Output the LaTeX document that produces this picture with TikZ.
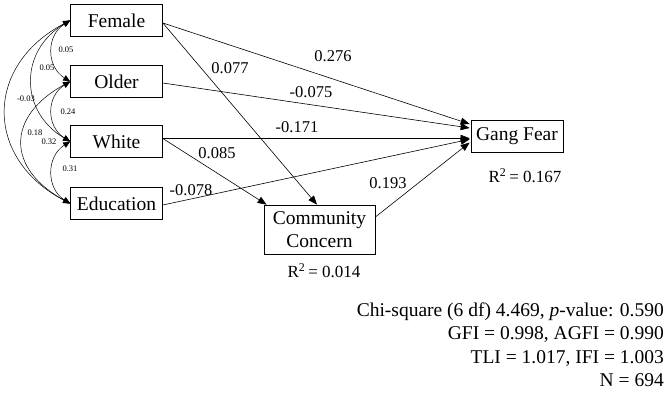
\documentclass[tikz,border=0pt]{standalone}
\usepackage{fontspec}
\setmainfont{Liberation Serif}
\usetikzlibrary{arrows.meta,calc}
\begin{document}
\begin{tikzpicture}[x=1pt,y=-1pt,
  box/.style={draw, line width=0.7pt, minimum width=92pt, minimum height=32pt, inner sep=0pt, font=\fontsize{19.5}{23}\selectfont},
  pathar/.style={line width=0.6pt, -{Triangle[length=9pt,width=7pt]}},
  corr/.style={line width=0.5pt, {Triangle[length=7pt,width=6pt]}-{Triangle[length=7pt,width=6pt]}},
  coef/.style={font=\fontsize{16.5}{18}\selectfont, inner sep=0pt},
  small/.style={font=\fontsize{8.5}{10}\selectfont, inner sep=0pt},
  rsq/.style={font=\fontsize{17}{20}\selectfont, inner sep=0pt},
  stat/.style={font=\fontsize{19.5}{23}\selectfont, inner sep=0pt, anchor=base east}]
\useasboundingbox (0,0) rectangle (669,393);
% variable boxes
\node[box] (F) at (116.5,20.5) {Female};
\node[box] (O) at (116.5,81.5) {Older};
\node[box] (W) at (116.5,141.5) {White};
\node[box] (E) at (116.5,203.5) {Education};
\node[box] (G) at (517,136.5) {Gang Fear};
\node[box, minimum width=111pt, minimum height=49pt, align=center] (C) at (319.5,229.5) {Community\\Concern};
% R squared
\node[rsq] (rG) at (525,176) {R\textsuperscript{2}\,= 0.167};
\node[rsq] (rC) at (324,271) {R\textsuperscript{2}\,= 0.014};
% paths
\draw[pathar] ($(F.east)+(0,2.5)$) -- ($(G.west)+(-1,-12.5)$);
\draw[pathar] ($(F.east)+(0,2.5)$) -- ($(C.north)+(-2.5,0)$);
\draw[pathar] ($(O.east)+(0,1.5)$) -- ($(G.west)+(-1,-8.5)$);
\draw[pathar] ($(W.east)+(0,-3.2)$) -- ($(G.west)+(-1,1.8)$);
\draw[pathar] ($(W.east)+(0,-3)$) -- ($(C.north west)+(3,0)$);
\draw[pathar] ($(E.east)+(0,1.5)$) -- ($(G.west)+(-1,2.8)$);
\draw[pathar] ($(C.east)+(0,-12.5)$) -- ($(G.west)+(-1,6)$);
% coefficients
\node[coef] (c1) at (333,56) {0.276};
\node[coef] (c2) at (230,68) {0.077};
\node[coef] (c3) at (311,92) {-0.075};
\node[coef] (c4) at (297,127) {-0.171};
\node[coef] (c5) at (217,153) {0.085};
\node[coef] (c6) at (191,190) {-0.078};
\node[coef] (c7) at (388,183) {0.193};
% correlations
\draw[corr] (F.west) .. controls +(-24,15) and +(-24,-15) .. (O.west);
\draw[corr] (O.west) .. controls +(-24,15) and +(-24,-15) .. (W.west);
\draw[corr] (W.west) .. controls +(-24,15) and +(-24,-15) .. (E.west);
\draw[corr] (F.west) .. controls +(-51,30) and +(-51,-30) .. (W.west);
\draw[corr] (O.west) .. controls +(-64,35) and +(-64,-35) .. (E.west);
\draw[corr] (F.west) .. controls +(-86,45) and +(-86,-45) .. (E.west);
\node[small] (k1) at (66,50) {0.05};
\node[small] (k2) at (47,68) {0.05};
\node[small] (k3) at (26,99) {-0.03};
\node[small] (k4) at (68,112) {0.24};
\node[small] (k5) at (35,133) {0.18};
\node[small] (k6) at (49,142) {0.32};
\node[small] (k7) at (70,169) {0.31};
% fit statistics
\node[stat] (s1) at (664,316) {Chi-square (6 df) 4.469, \textit{p}-value: 0.590};
\node[stat] (s2) at (664,339.5) {GFI = 0.998, AGFI = 0.990};
\node[stat] (s3) at (664,363) {TLI = 1.017, IFI = 1.003};
\node[stat] (s4) at (664,386.5) {N = 694};
\end{tikzpicture}
\end{document}
